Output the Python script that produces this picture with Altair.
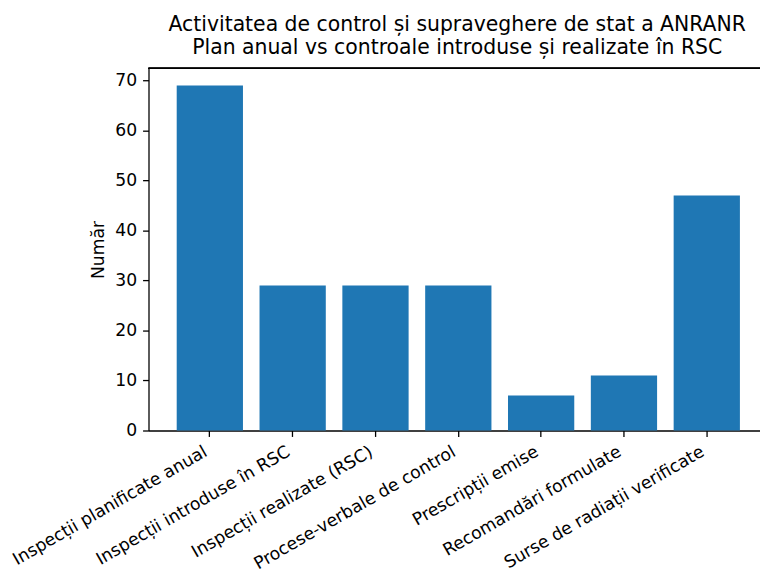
import altair as alt
import pandas as pd

categories = [
    "Inspecții planificate anual",
    "Inspecții introduse în RSC",
    "Inspecții realizate (RSC)",
    "Procese-verbale de control",
    "Prescripții emise",
    "Recomandări formulate",
    "Surse de radiații verificate",
]
values = [69, 29, 29, 29, 7, 11, 47]

df = pd.DataFrame({"cat": categories, "val": values})

FONT = "DejaVu Sans"
TICK_FS = 17.4

bars = (
    alt.Chart(df)
    .mark_bar(color="#1f77b4")
    .encode(
        x=alt.X(
            "cat:N",
            sort=categories,
            title=None,
            scale=alt.Scale(paddingInner=0.2, paddingOuter=0.2915, align=0.584),
            axis=alt.Axis(
                labelAngle=-30,
                labelAlign="right",
                labelBaseline="middle",
                labelPadding=14,
                labelOffset=-4,
                labelFontSize=TICK_FS,
                labelFont=FONT,
                labelColor="black",
                tickSize=6,
                tickColor="black",
                tickWidth=1.3,
                domain=True,
                domainColor="black",
                domainWidth=1.3,
                labelLimit=400,
            ),
        ),
        y=alt.Y(
            "val:Q",
            title="Număr",
            scale=alt.Scale(domain=[0, 72.45], nice=False),
            axis=alt.Axis(
                values=[0, 10, 20, 30, 40, 50, 60, 70],
                grid=False,
                labelFontSize=TICK_FS,
                labelFont=FONT,
                labelColor="black",
                labelPadding=6,
                tickSize=6,
                tickColor="black",
                tickWidth=1.3,
                domain=True,
                domainColor="black",
                domainWidth=1.3,
                titleFont=FONT,
                titleFontSize=TICK_FS,
                titleFontWeight="normal",
                titleColor="black",
                titlePadding=7,
            ),
        ),
    )
)

top_spine = alt.Chart(df).mark_rule(color="black", strokeWidth=1.3).encode(
    y=alt.value(0)
)

chart = (
    alt.layer(bars, top_spine)
    .properties(
        width=618,
        height=366,
        title=alt.TitleParams(
            text=[
                "Activitatea de control și supraveghere de stat a ANRANR",
                "Plan anual vs controale introduse și realizate în RSC",
            ],
            font=FONT,
            fontSize=20.6,
            fontWeight="normal",
            color="black",
            anchor="middle",
            frame="group",
            lineHeight=24,
            offset=9,
            dx=3,
        ),
        autosize=alt.AutoSizeParams(type="none"),
        padding={"left": 142, "top": 58, "right": 0, "bottom": 140},
    )
    .configure_view(stroke=None)
)

chart.save("out.html", embed_options={"renderer": "svg", "actions": False})
